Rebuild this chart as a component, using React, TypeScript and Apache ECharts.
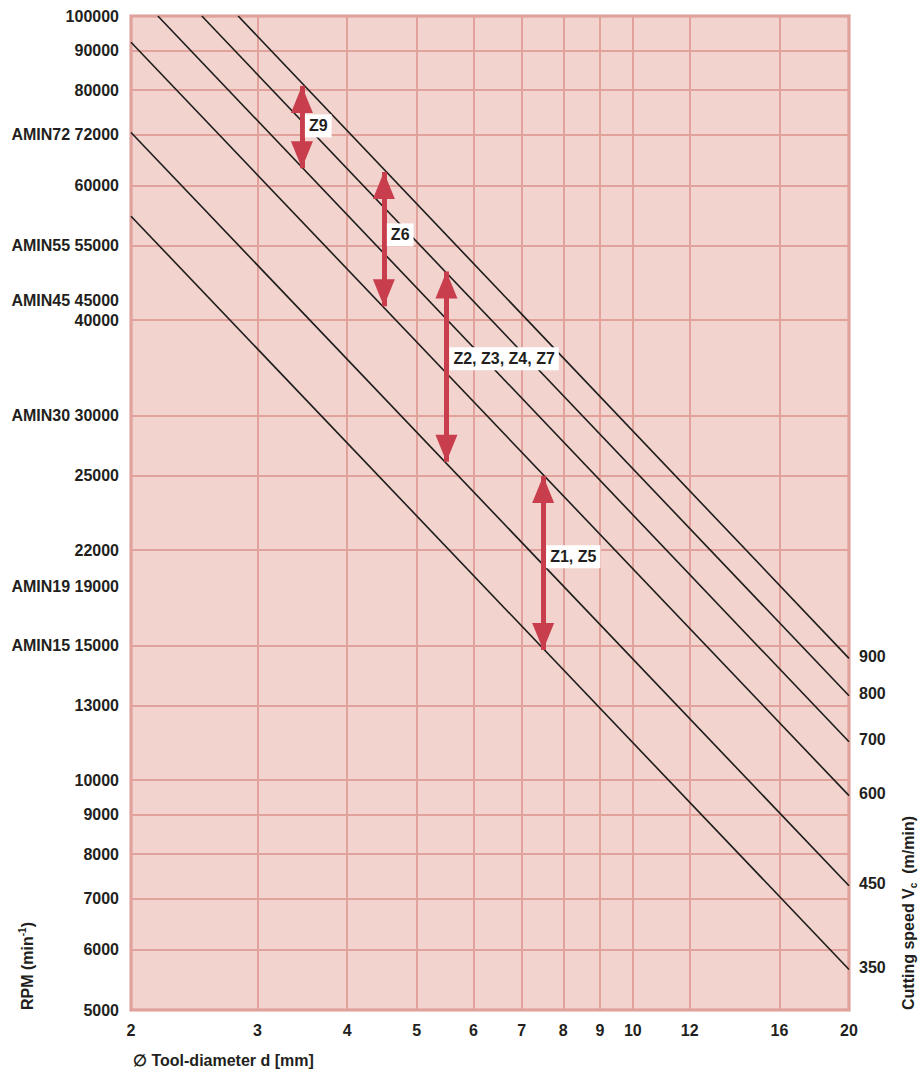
import React, { useEffect, useRef } from "react";
import * as echarts from "echarts";

const FONT = "'Liberation Sans', Arial, sans-serif";
const TEXT = "#231f20";
const RED = "#c83e4d";

// x axis (tool diameter, mm)
const xTickValues = [2, 3, 4, 5, 6, 7, 8, 9, 10, 12, 16, 20];
// y axis grid lines (RPM)
const yGridValues = [5000, 6000, 7000, 8000, 9000, 10000, 12500, 15000, 20000, 25000, 30000, 40000, 50000, 60000, 70000, 80000, 90000, 100000];
// y axis labels as printed on the chart, at the heights where they are printed
const yLabelValues = [5000, 6000, 7000, 8000, 9000, 10000, 12500, 15000, 17900, 20000, 25000, 30000, 40000, 42400, 50000, 60000, 70000, 80000, 90000, 100000];
const yLabelTexts = ["5000", "6000", "7000", "8000", "9000", "10000", "13000", "AMIN15 15000", "AMIN19 19000", "22000", "25000", "AMIN30 30000", "40000", "AMIN45 45000", "AMIN55 55000", "60000", "AMIN72 72000", "80000", "90000", "100000"];

// cutting-speed lines (m/min): start and end points
const speedLabels = ["350", "450", "600", "700", "800", "900"];
const lineStartD = [2, 2, 2, 2.18, 2.51, 2.82];
const lineStartRpm = [54700, 70400, 92400, 100000, 100000, 100000];
const lineEndD = [20, 20, 20, 20, 20, 20];
const lineEndRpm = [5650, 7270, 9540, 11220, 12890, 14430];

// red double arrows (tool groups)
const arrowNames = ["Z9", "Z6", "Z2, Z3, Z4, Z7", "Z1, Z5"];
const arrowD = [3.46, 4.5, 5.5, 7.5];
const arrowTopRpm = [81000, 62500, 46300, 25000];
const arrowBottomRpm = [63200, 41700, 26100, 14800];
const arrowLabelRpm = [71800, 51700, 35600, 19600];

function yLabelFormatter(v: number): string {
  for (let i = 0; i < yLabelValues.length; i++) {
    if (Math.abs(Math.log(v / yLabelValues[i])) < 0.002) return yLabelTexts[i];
  }
  return "";
}

export default function App() {
  const ref = useRef<HTMLDivElement>(null);
  useEffect(() => {
    if (!ref.current) return;
    const chart = echarts.init(ref.current, undefined, { renderer: "svg" });

    const lineSeries = speedLabels.map((lab, i) => ({
      type: "line",
      name: lab,
      data: [
        [lineStartD[i], lineStartRpm[i]],
        [lineEndD[i], lineEndRpm[i]],
      ],
      symbol: "none",
      silent: true,
      z: 3,
      lineStyle: { color: "#1d1d1b", width: 1.6 },
      endLabel: {
        show: true,
        formatter: lab,
        distance: 10,
        offset: [0, -2],
        color: TEXT,
        fontFamily: FONT,
        fontWeight: "bold",
        fontSize: 16,
      },
    }));

    // arrow shafts
    const shaftSeries = {
      type: "line",
      data: [],
      z: 4,
      silent: true,
      markLine: {
        silent: true,
        animation: false,
        symbol: ["none", "none"],
        label: { show: false },
        lineStyle: { color: RED, width: 5, type: "solid", opacity: 1 },
        emphasis: { disabled: true },
        data: arrowNames.map((_, i) => [
          { coord: [arrowD[i], arrowTopRpm[i]] },
          { coord: [arrowD[i], arrowBottomRpm[i]] },
        ]),
      },
    };

    // arrow heads
    const headUp = {
      type: "scatter",
      z: 5,
      silent: true,
      symbol: "triangle",
      symbolSize: [22, 27],
      symbolOffset: [0, 13.5],
      itemStyle: { color: RED, opacity: 1 },
      data: arrowNames.map((_, i) => [arrowD[i], arrowTopRpm[i]]),
    };
    const headDown = {
      type: "scatter",
      z: 5,
      silent: true,
      symbol: "triangle",
      symbolRotate: 180,
      symbolSize: [22, 27],
      symbolOffset: [0, -13.5],
      itemStyle: { color: RED, opacity: 1 },
      data: arrowNames.map((_, i) => [arrowD[i], arrowBottomRpm[i]]),
    };

    const arrowLabels = {
      type: "scatter",
      z: 6,
      silent: true,
      symbolSize: 2,
      itemStyle: { color: "rgba(0,0,0,0)", opacity: 1 },
      data: arrowNames.map((n, i) => ({ name: n, value: [arrowD[i], arrowLabelRpm[i]] })),
      label: {
        show: true,
        position: "right",
        distance: 2,
        formatter: "{b}",
        backgroundColor: "#ffffff",
        padding: [3, 4, 3, 4],
        lineHeight: 17,
        color: TEXT,
        opacity: 1,
        fontFamily: FONT,
        fontWeight: "bold",
        fontSize: 16,
      },
    };

    const option: any = {
      animation: false,
      backgroundColor: "#ffffff",
      grid: {
        left: 131,
        right: 71,
        top: 16,
        bottom: 60,
        show: true,
        backgroundColor: "#f2d3cd",
        borderColor: "#d8958f",
        borderWidth: 3,
        outerBoundsMode: "none",
        containLabel: false,
      },
      xAxis: {
        type: "log",
        logBase: 10,
        min: 2,
        max: 20,
        axisLine: { show: false },
        axisTick: { show: false, customValues: xTickValues },
        splitLine: { show: true, lineStyle: { color: "#e2a29c", width: 2 } },
        axisLabel: {
          customValues: xTickValues,
          margin: 12,
          color: TEXT,
          fontFamily: FONT,
          fontWeight: "bold",
          fontSize: 16,
          showMinLabel: true,
          showMaxLabel: true,
        },
      },
      yAxis: {
        type: "log",
        logBase: 10,
        min: 5000,
        max: 100000,
        axisLine: { show: false },
        axisTick: { show: false, customValues: yGridValues },
        splitLine: { show: true, lineStyle: { color: "#e2a29c", width: 2 } },
        axisLabel: {
          customValues: yLabelValues,
          formatter: yLabelFormatter,
          margin: 12,
          color: TEXT,
          fontFamily: FONT,
          fontWeight: "bold",
          fontSize: 16,
          showMinLabel: true,
          showMaxLabel: true,
        },
      },
      graphic: [
        {
          type: "text",
          x: 27,
          y: 1010,
          rotation: Math.PI / 2,
          style: {
            text: "{a|RPM (min}{s|-1}{a|)}",
            align: "left",
            verticalAlign: "middle",
            rich: {
              a: { fontFamily: FONT, fontWeight: "bold", fontSize: 16, fill: TEXT, lineHeight: 20 },
              s: { fontFamily: FONT, fontWeight: "bold", fontSize: 10, fill: TEXT, lineHeight: 20, verticalAlign: "top" },
            },
          },
        },
        {
          type: "text",
          x: 908,
          y: 1010,
          rotation: Math.PI / 2,
          style: {
            text: "{a|Cutting speed V}{s|c}{a|  (m/min)}",
            align: "left",
            verticalAlign: "middle",
            rich: {
              a: { fontFamily: FONT, fontWeight: "bold", fontSize: 16, fill: TEXT, lineHeight: 20 },
              s: { fontFamily: FONT, fontWeight: "bold", fontSize: 10, fill: TEXT, lineHeight: 20, verticalAlign: "bottom" },
            },
          },
        },
        {
          type: "text",
          x: 133,
          y: 1060,
          style: {
            text: "\u2205 Tool-diameter d [mm]",
            align: "left",
            verticalAlign: "middle",
            fontFamily: FONT,
            fontWeight: "bold",
            fontSize: 16,
            fill: TEXT,
          },
        },
      ],
      series: [...lineSeries, shaftSeries, headUp, headDown, arrowLabels],
    };

    chart.setOption(option);
    return () => chart.dispose();
  }, []);

  return (
    <div
      ref={ref}
      style={{ position: "fixed", left: 0, top: 0, width: 920, height: 1070 }}
    />
  );
}
